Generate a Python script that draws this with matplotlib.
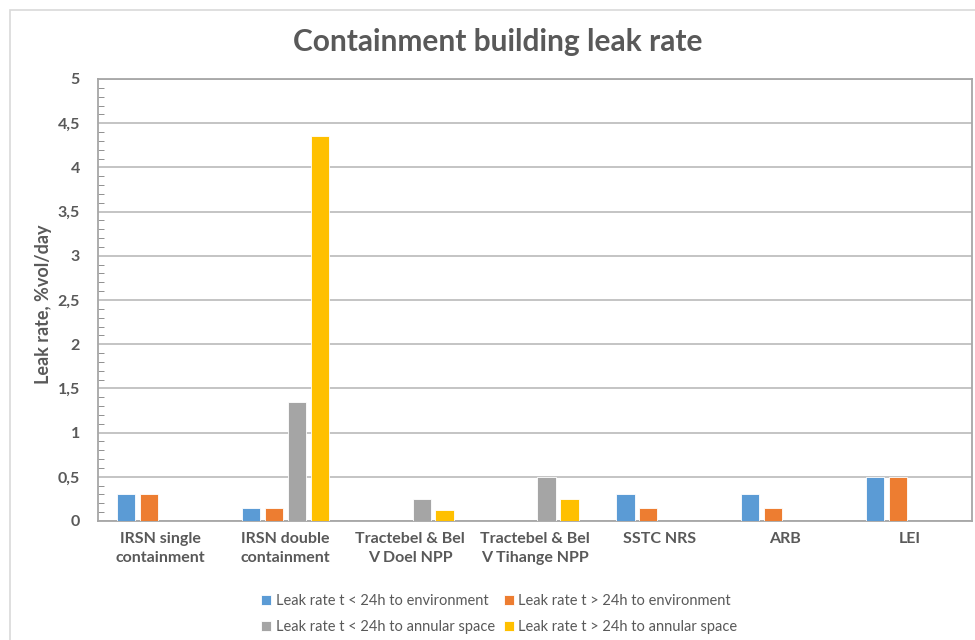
import numpy as np
import matplotlib
matplotlib.use("Agg")
import matplotlib.pyplot as plt
from matplotlib.ticker import MultipleLocator, FuncFormatter
from matplotlib.patches import Rectangle

plt.rcParams['font.family'] = ['Lato', 'DejaVu Sans']

categories = ["IRSN single\ncontainment", "IRSN double\ncontainment",
              "Tractebel & Bel\nV Doel NPP", "Tractebel & Bel\nV Tihange NPP",
              "SSTC NRS", "ARB", "LEI"]
series_names = ["Leak rate t < 24h to environment",
                "Leak rate t > 24h to environment",
                "Leak rate t < 24h to annular space",
                "Leak rate t > 24h to annular space"]
env_lt24 = [0.3, 0.15, np.nan, np.nan, 0.3, 0.3, 0.5]
env_gt24 = [0.3, 0.15, np.nan, np.nan, 0.15, 0.15, 0.5]
ann_lt24 = [np.nan, 1.35, 0.25, 0.5, np.nan, np.nan, np.nan]
ann_gt24 = [np.nan, 4.35, 0.13, 0.25, np.nan, np.nan, np.nan]
colors = ["#5B9BD5", "#ED7D31", "#A5A5A5", "#FFC000"]

txt = "#595959"
fig = plt.figure(figsize=(9.75, 6.4), dpi=100)
ax = fig.add_axes([98/975, 1-521/640, 874/975, 442/640])

x = np.arange(len(categories))
slot = 0.184
width = 0.146
bars = []
for i, (vals, name, c) in enumerate(zip([env_lt24, env_gt24, ann_lt24, ann_gt24], series_names, colors)):
    b = ax.bar(x + (i - 1.5) * slot, vals, width, color=c, label=name,
               edgecolor="white", linewidth=0.6, zorder=3)
    bars.append(b)

ax.set_xlim(-0.5, len(categories) - 0.5)
ax.set_ylim(0, 5)
ax.yaxis.set_major_locator(MultipleLocator(0.5))
ax.yaxis.set_minor_locator(MultipleLocator(0.1))
ax.yaxis.set_major_formatter(FuncFormatter(lambda v, p: f"{v:g}".replace(".", ",")))
ax.grid(axis="y", color="#BFBFBF", linewidth=1.3, zorder=0)
ax.tick_params(axis="y", which="minor", direction="in", length=4, color="#7F7F7F")
ax.tick_params(axis="y", which="major", length=0, pad=13, labelsize=11.5, labelcolor=txt)
ax.tick_params(axis="x", length=0, pad=8, labelsize=11.5, labelcolor=txt)
ax.set_xticks(x)
ax.set_xticklabels(categories, fontweight="bold", linespacing=1.45)
for lab in ax.get_yticklabels():
    lab.set_fontweight("bold")
for s in ["left", "bottom", "top", "right"]:
    ax.spines[s].set_color("#A6A6A6")
    ax.spines[s].set_linewidth(1.3)

ax.set_ylabel("Leak rate, %vol/day", fontsize=13, fontweight="bold", color=txt)
ax.yaxis.set_label_coords(-0.053, 0.49)
fig.text(0.511, 1-42/640, "Containment building leak rate", ha="center", va="center",
         fontsize=21.5, fontweight="bold", color=txt)

# column-major filling -> reorder so rows read env / annular
order = [0, 2, 1, 3]
leg = fig.legend([bars[i] for i in order], [series_names[i] for i in order],
                 loc="center", bbox_to_anchor=(0.512, 1-614/640), ncol=2, frameon=False,
                 fontsize=10.5, handlelength=0.7, handleheight=0.7, handletextpad=0.3,
                 columnspacing=0.6, labelspacing=0.85)
for t in leg.get_texts():
    t.set_color(txt)

fig.patches.append(Rectangle((10/975, -0.1), 1.2, 1.1 - 10/640, transform=fig.transFigure,
                             fill=False, edgecolor="#D9D9D9", linewidth=1.2))

fig.savefig("out.png", dpi=100)
